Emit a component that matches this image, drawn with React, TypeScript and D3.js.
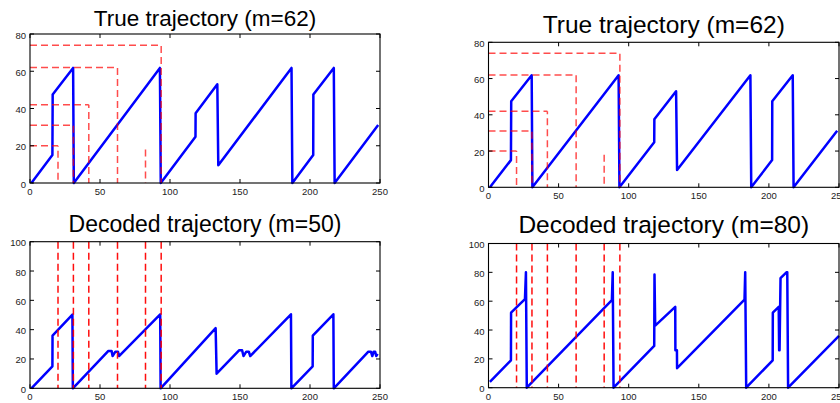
import React from "react";
import * as d3 from "d3";

// ---------- data ----------
const xTicks = [0, 50, 100, 150, 200, 250];
const yTicksTrue = [0, 20, 40, 60, 80];
const yTicksDecoded = [0, 20, 40, 60, 80, 100];

const titleTrue = "True trajectory (m=62)";
const titleDec50 = "Decoded trajectory (m=50)";
const titleDec80 = "Decoded trajectory (m=80)";

// true trajectory (time, value)
const trueT = [1, 16, 16.2, 30.8, 31.3, 92.8, 93.4, 118.2, 118.3, 133.8, 134.5, 186.8, 187.4, 202.3, 202.4, 217, 217.6, 248.7];
const trueV = [0, 15, 47.5, 61.8, 0, 61.8, 0, 24.8, 37.5, 53, 9.5, 61.8, 0, 15, 47.5, 61.8, 0, 31.2];

// decoded trajectory m=50
const dec50T = [1, 16, 16.1, 30.3, 30.6, 56, 58.3, 59, 61, 62.8, 63.6, 93, 93.3, 132.6, 133.3, 149.5, 151.5, 152.5, 154.5, 156.3, 157.3, 186.4, 186.7, 201.9, 202, 216.7, 217, 241.7, 243.5, 244.5, 245.5, 246.5, 247.3, 248.3];
const dec50V = [0, 15, 36, 50.3, 0, 25.5, 25.5, 22, 25, 25, 22, 50.5, 0, 41, 10, 26, 26, 22, 25, 25, 22, 50.5, 0, 15, 36, 50.5, 0, 25, 25, 22, 25, 25, 22, 23.5];

// decoded trajectory m=80
const dec80T = [1, 16, 16.1, 26, 26.7, 27.3, 88, 88.6, 89.2, 118.2, 118.4, 118.9, 133.2, 133.3, 134.4, 134.5, 182.6, 183.1, 183.8, 202.7, 202.8, 207, 207.3, 207.6, 208.3, 212.5, 213.1, 213.7, 250];
const dec80V = [4, 19, 52, 61.5, 80, 0, 60.7, 80, 0, 29, 78.5, 43, 56, 26, 26, 13.5, 61, 80, 0, 19, 52, 56, 26, 26, 76, 80, 80, 0, 36];

// red dashed markers
const markTimes = [20, 31, 42, 62.5, 82.5, 93.7];
const markLevels = [20, 31, 42, 62, 18, 74];
const markHasLevel = [true, true, true, true, false, true];

const FONT = "'Liberation Sans', Arial, Helvetica, sans-serif";

// build a dashed polyline as solid segments
function dashed(points: [number, number][], on = 7, off = 4): string {
  let d = "";
  let phase = 0;
  const period = on + off;
  for (let k = 0; k < points.length - 1; k++) {
    const [ax, ay] = points[k];
    const [bx, by] = points[k + 1];
    const len = Math.hypot(bx - ax, by - ay);
    if (len === 0) continue;
    const ux = (bx - ax) / len, uy = (by - ay) / len;
    let s = 0;
    while (s < len) {
      const inOn = phase < on;
      const remain = inOn ? on - phase : period - phase;
      const step = Math.min(remain, len - s);
      if (inOn) {
        d += `M${ax + ux * s},${ay + uy * s}L${ax + ux * (s + step)},${ay + uy * (s + step)}`;
      }
      s += step;
      phase = (phase + step) % period;
    }
  }
  return d;
}

type PanelProps = {
  x0: number; x1: number; yTop: number; yBot: number;
  yMax: number; yTicks: number[];
  title: string; titleSize: number; titleBaseline: number;
  T: number[]; V: number[];
  levels: boolean;
};

function Panel(p: PanelProps) {
  const x = d3.scaleLinear().domain([0, 250]).range([p.x0, p.x1]);
  const y = d3.scaleLinear().domain([0, p.yMax]).range([p.yBot, p.yTop]);
  const pts: [number, number][] = p.T.map((t, i) => [t, p.V[i]]);
  const line = d3.line<[number, number]>().x(d => x(d[0])).y(d => y(d[1]));
  const tickLen = 4;
  const red = "#ff0000";
  let redPath = "";
  markTimes.forEach((t, i) => {
    if (p.levels) {
      const poly: [number, number][] = markHasLevel[i]
        ? [[x(0), y(markLevels[i])], [x(t), y(markLevels[i])], [x(t), y(0)]]
        : [[x(t), y(markLevels[i])], [x(t), y(0)]];
      redPath += dashed(poly);
    } else {
      redPath += dashed([[x(t), y(p.yMax)], [x(t), y(0)]]);
    }
  });
  return (
    <g>
      <text x={(p.x0 + p.x1) / 2} y={p.titleBaseline} textAnchor="middle" fontFamily={FONT} fontSize={p.titleSize} fill="#000">{p.title}</text>
      <path d={line(pts) || ""} fill="none" stroke="#0000ff" strokeWidth={2.5} strokeLinejoin="round" />
      <path d={redPath} fill="none" stroke={red} strokeWidth={1.5} opacity={p.levels ? 0.7 : 0.95} />
      <rect x={p.x0} y={p.yTop} width={p.x1 - p.x0} height={p.yBot - p.yTop} fill="none" stroke="#000" strokeWidth={1.1} />
      {xTicks.map(t => (
        <g key={"x" + t}>
          <line x1={x(t)} x2={x(t)} y1={p.yBot} y2={p.yBot - tickLen} stroke="#000" strokeWidth={1} />
          <line x1={x(t)} x2={x(t)} y1={p.yTop} y2={p.yTop + tickLen} stroke="#000" strokeWidth={1} />
          <text x={x(t)} y={p.yBot + 12} textAnchor="middle" fontFamily={FONT} fontSize={9.5} fill="#222">{t}</text>
        </g>
      ))}
      {p.yTicks.map(t => (
        <g key={"y" + t}>
          <line x1={p.x0} x2={p.x0 + tickLen} y1={y(t)} y2={y(t)} stroke="#000" strokeWidth={1} />
          <line x1={p.x1} x2={p.x1 - tickLen} y1={y(t)} y2={y(t)} stroke="#000" strokeWidth={1} />
          <text x={p.x0 - 4} y={y(t) + 4.5} textAnchor="end" fontFamily={FONT} fontSize={9.5} fill="#222">{t}</text>
        </g>
      ))}
    </g>
  );
}

export default function App() {
  return (
    <svg width={840} height={403} style={{ position: "absolute", left: 0, top: 0, background: "#fff" }}>
      <rect x={0} y={0} width={840} height={403} fill="#fff" />
      <Panel x0={30} x1={380} yTop={34} yBot={183} yMax={80} yTicks={yTicksTrue}
        title={titleTrue} titleSize={22.5} titleBaseline={26} T={trueT} V={trueV} levels={true} />
      <Panel x0={488.5} x1={839} yTop={42.3} yBot={187.3} yMax={80} yTicks={yTicksTrue}
        title={titleTrue} titleSize={24.5} titleBaseline={32.5} T={trueT} V={trueV} levels={true} />
      <Panel x0={30} x1={380} yTop={241.7} yBot={388.3} yMax={100} yTicks={yTicksDecoded}
        title={titleDec50} titleSize={23} titleBaseline={231.7} T={dec50T} V={dec50V} levels={false} />
      <Panel x0={488.5} x1={839} yTop={243.5} yBot={387.7} yMax={100} yTicks={yTicksDecoded}
        title={titleDec80} titleSize={24.5} titleBaseline={233.3} T={dec80T} V={dec80V} levels={false} />
    </svg>
  );
}
